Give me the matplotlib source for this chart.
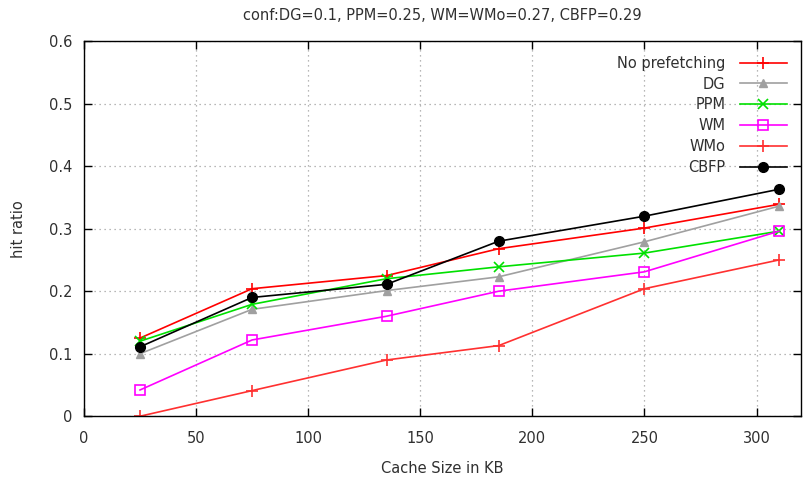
import numpy as np
import matplotlib
matplotlib.use("Agg")
import matplotlib.pyplot as plt

cache_kb = [25, 75, 135, 185, 250, 310]
no_prefetch = [0.125, 0.204, 0.225, 0.268, 0.301, 0.339]
dg = [0.100, 0.171, 0.201, 0.223, 0.279, 0.336]
ppm = [0.120, 0.179, 0.220, 0.239, 0.261, 0.296]
wm = [0.042, 0.122, 0.160, 0.200, 0.231, 0.296]
wmo = [0.000, 0.041, 0.090, 0.113, 0.204, 0.250]
cbfp = [0.111, 0.190, 0.211, 0.280, 0.320, 0.363]

xticks = [0, 50, 100, 150, 200, 250, 300]
yticks = [0, 0.1, 0.2, 0.3, 0.4, 0.5, 0.6]

txt = '#303030'
plt.rcParams['font.family'] = ['DejaVu Sans']
plt.rcParams['text.color'] = txt
plt.rcParams['axes.labelcolor'] = txt
plt.rcParams['xtick.labelcolor'] = txt
plt.rcParams['ytick.labelcolor'] = txt

fig = plt.figure(figsize=(8.07, 4.84), dpi=100)
ax = fig.add_axes([0.104, 0.14, 0.889, 0.775])

ax.plot(cache_kb, no_prefetch, color='#ff0000', marker='+', ms=9, mew=1.2, lw=1.2, label='No prefetching')
ax.plot(cache_kb, dg, color='#a0a0a0', marker='^', ms=6, lw=1.2, label='DG')
ax.plot(cache_kb, ppm, color='#00e000', marker='x', ms=7, mew=1.2, lw=1.2, label='PPM')
ax.plot(cache_kb, wm, color='#ff00ff', marker='s', ms=7, mfc='none', mew=1.2, lw=1.2, label='WM')
ax.plot(cache_kb, wmo, color='#ff3030', marker='+', ms=9, mew=1.2, lw=1.2, label='WMo')
ax.plot(cache_kb, cbfp, color='black', marker='o', ms=7, lw=1.2, label='CBFP')

ax.set_xlim(0, 320)
ax.set_ylim(0, 0.6)
ax.set_xticks(xticks)
ax.set_yticks(yticks)
ax.set_yticklabels(['0', '0.1', '0.2', '0.3', '0.4', '0.5', '0.6'])
ax.tick_params(direction='in', top=True, right=True, length=6, width=1, labelsize=10.5)
ax.tick_params(axis='x', pad=10.5)
ax.tick_params(axis='y', pad=8.5)
ax.grid(True, linestyle=(0, (1, 3)), color='#a0a0a0', lw=0.9)
for s in ax.spines.values():
    s.set_linewidth(1)

ax.set_xlabel('Cache Size in KB', fontsize=10.5, labelpad=11)
ax.set_ylabel('hit ratio', fontsize=10.5, labelpad=16)
ax.set_title('conf:DG=0.1, PPM=0.25, WM=WMo=0.27, CBFP=0.29', fontsize=10.5, pad=15)

leg = ax.legend(loc='upper right', markerfirst=False, frameon=False, fontsize=10.5,
                handlelength=3.2, labelspacing=0.4, borderaxespad=0.6, handletextpad=1.0)

fig.savefig('out.png', dpi=100)
